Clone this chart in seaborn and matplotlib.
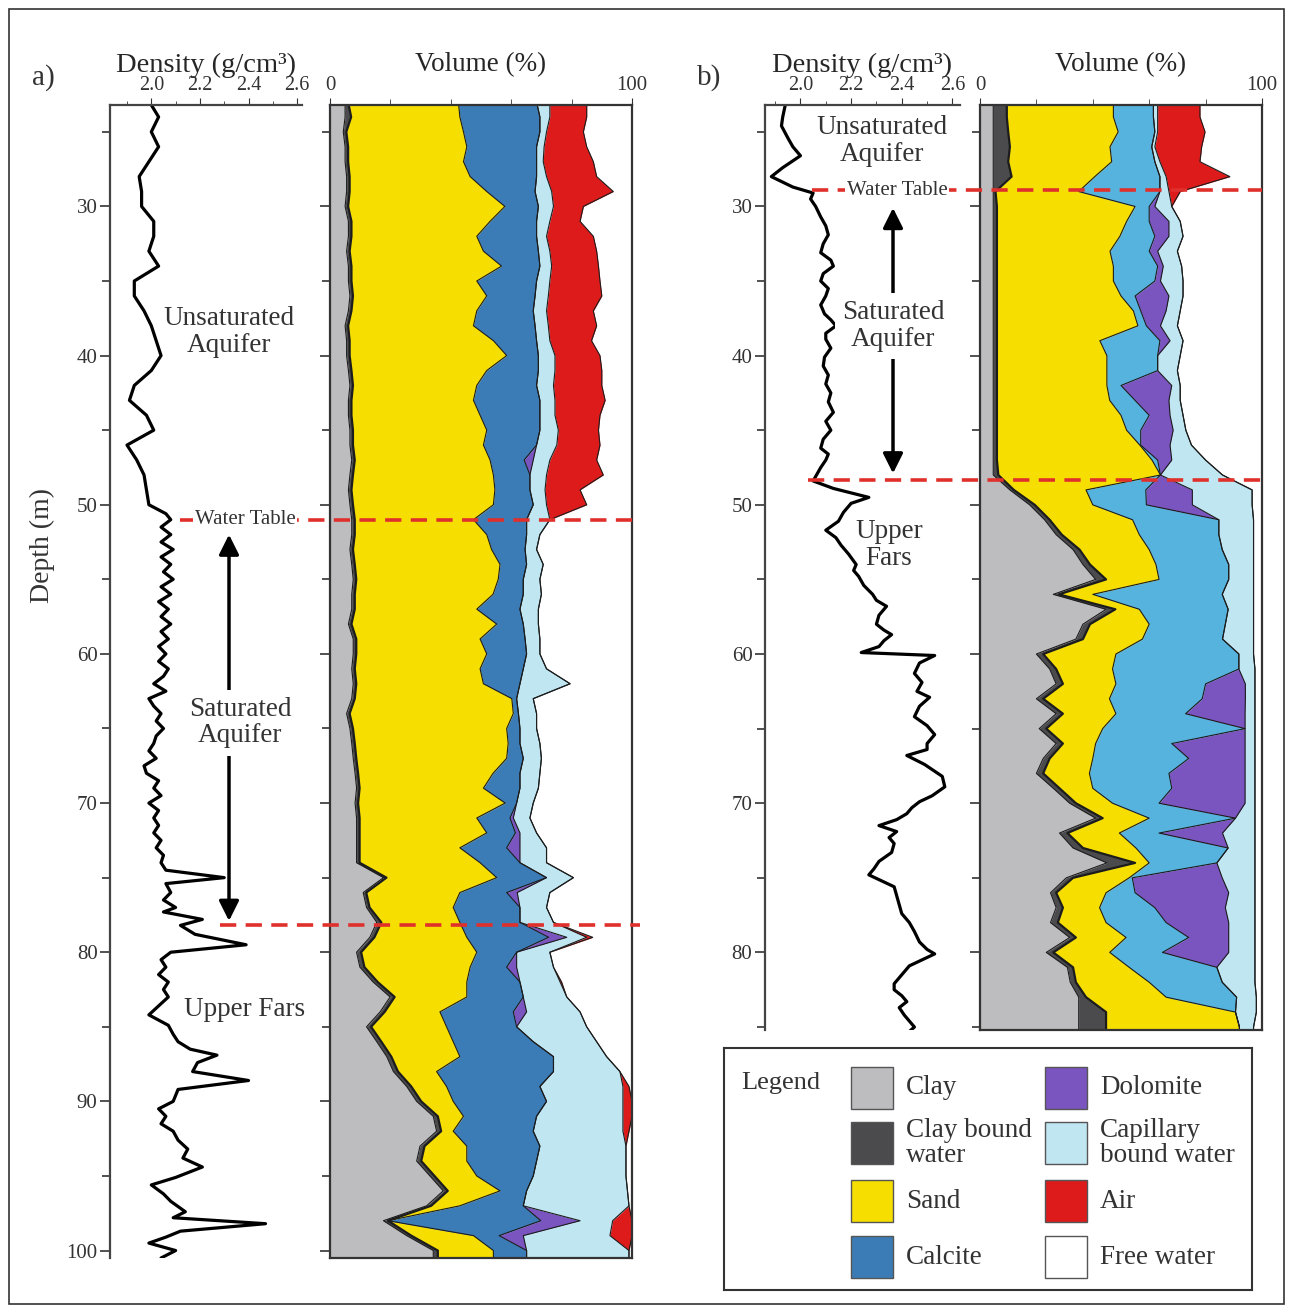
import numpy as np
import matplotlib
matplotlib.use("Agg")
import matplotlib.pyplot as plt
from matplotlib.patches import Rectangle
from matplotlib.ticker import MultipleLocator, FixedLocator
import seaborn as sns

# ---------------- density logs (g/cm3) ----------------
dens_a_depth = [23.2, 24, 25, 26, 27, 28, 29, 30, 31, 32, 33, 34, 35, 36, 37, 38, 39, 40, 41, 42, 43, 44, 45,
                46, 47, 48, 49, 50, 50.6, 51, 51.5, 52, 52.5, 53, 53.5, 54, 54.5, 55, 55.5, 56, 56.5, 57, 57.5,
                58, 58.5, 59, 59.5, 60, 60.5, 61, 61.5, 62, 62.5, 63, 63.5, 64, 64.5, 65, 65.5, 66, 66.5, 67,
                67.5, 68, 68.5, 69, 69.5, 70, 70.5, 71, 71.5, 72, 72.5, 73, 73.5, 74, 74.5, 75, 75.4, 76, 76.5,
                77, 77.3, 77.8, 78.2, 78.8, 79.5, 80, 80.5, 81, 81.5, 82, 82.5, 83, 83.6, 84.2, 84.9, 85.5, 86,
                86.5, 86.9, 87.4, 88, 88.6, 89.2, 90, 90.5, 91, 91.5, 92, 92.6, 93.2, 93.8, 94.4, 95.1, 95.6,
                96.2, 96.7, 97.4, 97.8, 98.2, 98.7, 99.1, 99.5, 100, 100.5, 100.9]
dens_a = [2.00, 2.03, 2.00, 2.03, 1.99, 1.95, 1.96, 1.96, 2.01, 2.01, 1.99, 2.03, 1.93, 1.93, 1.97, 2.00, 2.02,
          2.04, 2.00, 1.93, 1.91, 1.98, 2.01, 1.90, 1.94, 1.97, 1.98, 1.99, 2.06, 2.08, 2.04, 2.08, 2.04, 2.09,
          2.04, 2.08, 2.05, 2.09, 2.04, 2.08, 2.03, 2.07, 2.04, 2.08, 2.04, 2.07, 2.03, 2.06, 2.03, 2.07, 2.05,
          2.01, 2.06, 1.99, 2.01, 2.04, 2.02, 2.05, 2.02, 2.01, 1.99, 2.02, 1.97, 1.98, 2.03, 2.01, 2.04, 1.99,
          2.03, 2.01, 2.03, 2.01, 2.04, 2.02, 2.05, 2.04, 2.06, 2.30, 2.06, 2.08, 2.05, 2.10, 2.05, 2.21, 2.12,
          2.18, 2.39, 2.08, 2.04, 2.06, 2.03, 2.07, 2.05, 2.07, 2.03, 1.99, 2.07, 2.09, 2.11, 2.16, 2.27, 2.19,
          2.17, 2.40, 2.11, 2.09, 2.03, 2.06, 2.04, 2.09, 2.11, 2.15, 2.13, 2.21, 2.10, 2.00, 2.05, 2.08, 2.14,
          2.09, 2.47, 2.12, 2.06, 1.99, 2.10, 2.04, 2.06]

dens_b_depth = [23.2, 24, 24.6, 25.4, 26, 26.6, 27.4, 28, 28.7, 29.1, 29.5, 30, 30.7, 31.3, 31.9, 32.5, 33.1,
                33.6, 34, 34.5, 35, 35.5, 36, 36.6, 37.2, 37.6, 38, 38.5, 38.9, 39.5, 40.1, 40.7, 41.3, 41.9,
                42.5, 43.1, 43.8, 44.4, 45, 45.6, 46.2, 46.6, 47, 47.5, 47.8, 48.4, 48.9, 49.5, 49.9, 50.5,
                51.1, 51.7, 52.2, 52.7, 53.3, 54, 54.4, 54.8, 55.4, 56, 56.4, 56.8, 57.4, 58, 58.4, 58.7, 59.1,
                59.5, 59.9, 60.1, 60.6, 61.3, 61.9, 62.5, 62.9, 63.5, 64.2, 64.8, 65.4, 66, 66.4, 66.8, 67.4,
                68.2, 68.9, 69.5, 69.9, 70.3, 70.7, 71.1, 71.5, 71.9, 72.3, 72.7, 73.3, 73.9, 74.4, 74.8, 75.2,
                75.6, 76.2, 76.8, 77.4, 78, 78.6, 79.3, 79.8, 80.1, 80.5, 80.9, 81.3, 81.7, 82.1, 82.5, 82.9,
                83.3, 83.7, 84.2, 84.6, 85, 85.3]
dens_b = [1.94, 1.93, 1.925, 1.95, 1.97, 2.00, 1.93, 1.885, 1.97, 2.05, 2.04, 2.06, 2.08, 2.10, 2.11, 2.09,
          2.08, 2.12, 2.13, 2.09, 2.08, 2.11, 2.10, 2.08, 2.095, 2.12, 2.14, 2.10, 2.10, 2.12, 2.095, 2.09,
          2.11, 2.10, 2.12, 2.11, 2.13, 2.10, 2.12, 2.09, 2.08, 2.11, 2.10, 2.08, 2.07, 2.05, 2.13, 2.27, 2.20,
          2.17, 2.15, 2.10, 2.14, 2.16, 2.19, 2.22, 2.21, 2.23, 2.25, 2.285, 2.30, 2.34, 2.31, 2.30, 2.33, 2.36,
          2.33, 2.31, 2.24, 2.53, 2.47, 2.45, 2.48, 2.46, 2.51, 2.47, 2.45, 2.50, 2.53, 2.50, 2.50, 2.42, 2.49,
          2.56, 2.57, 2.52, 2.47, 2.44, 2.42, 2.38, 2.31, 2.38, 2.35, 2.37, 2.36, 2.31, 2.29, 2.27, 2.32, 2.37,
          2.38, 2.39, 2.40, 2.43, 2.45, 2.47, 2.50, 2.53, 2.48, 2.43, 2.41, 2.39, 2.37, 2.37, 2.40, 2.42, 2.39,
          2.41, 2.43, 2.45, 2.43]

# ---------------- volume (%) well a, 1 m steps from 23 m ----------------
depth_a = np.arange(23, 102)
clay_a = [5.0, 5.0, 4.4, 5.0, 5.0, 5.5, 5.5, 5.0, 6.1, 6.1, 5.5, 6.1, 6.1, 6.6, 6.1, 5.0, 5.5, 5.5, 6.1, 6.6,
          6.1, 6.1, 6.6, 6.6, 7.2, 6.6, 6.1, 6.6, 7.2, 7.2, 6.6, 7.2, 7.7, 7.2, 7.2, 6.1, 7.7, 7.7, 7.2, 7.7,
          7.2, 5.5, 6.6, 7.2, 7.7, 8.3, 8.8, 8.3, 8.8, 8.8, 8.8, 8.8, 17.7, 11.0, 12.1, 15.5, 13.2, 8.8, 9.9,
          14.3, 19.9, 16.6, 12.1, 15.5, 18.8, 21.0, 25.4, 28.7, 34.2, 35.3, 29.8, 28.7, 33.1, 37.5, 32.0, 17.7,
          25.4, 34.2, 34.2]
cbw_a = [1, 2, 1, 1, 1, 1, 1, 1, 1, 1, 1, 1, 1, 1, 1, 1, 1, 1, 1, 1, 1, 1, 1, 1, 1, 1, 1, 1, 1, 1, 1, 1, 1, 1,
         1, 1, 1, 1, 1, 1, 1, 1, 1, 1, 1, 1, 1, 1, 1, 1, 1, 1, 1, 1, 1, 1.5, 1.5, 1.5, 1.5, 1.5, 1.5, 1.5, 1.5,
         1.5, 1.5, 1.5, 1.5, 1.5, 1.5, 1.5, 1.5, 1.5, 1.5, 1.5, 1.5, 1.5, 1.5, 1.5, 1.5]
sand_a = [36.5, 36.0, 38.8, 39.3, 38.2, 39.9, 45.4, 51.9, 45.9, 41.5, 44.3, 49.7, 41.5, 44.3, 41.5, 41.5, 47.6,
          52.0, 44.8, 41.0, 40.4, 42.6, 44.3, 43.2, 44.8, 46.5, 47.5, 46.5, 39.3, 43.7, 45.9, 48.1, 47.0, 45.8,
          40.4, 48.1, 41.0, 43.2, 41.5, 42.1, 52.0, 54.2, 50.9, 50.8, 49.8, 44.7, 41.0, 48.7, 38.8, 42.1, 33.2,
          39.9, 36.5, 31.0, 27.7, 26.0, 30.6, 38.3, 35.0, 29.5, 23.9, 18.3, 25.0, 23.8, 22.7, 12.8, 11.7, 10.6,
          8.5, 4.0, 14.0, 15.1, 14.0, 17.3, 9.5, 0.0, 20.6, 18.4, 18.4]
calcite_a = [25.9, 26.5, 25.3, 23.1, 24.2, 22.0, 16.0, 11.1, 15.4, 19.8, 18.2, 12.7, 19.8, 16.0, 18.7, 20.4,
             14.3, 10.5, 17.1, 19.8, 22.0, 19.8, 17.6, 17.6, 11.3, 12.1, 11.6, 13.2, 17.6, 13.2, 11.1, 8.8, 8.3,
             10.0, 14.3, 8.8, 14.9, 13.2, 14.3, 12.1, 1.6, 1.7, 4.4, 3.9, 5.5, 8.9, 12.1, 3.8, 11.0, 9.5, 15.5,
             13.2, 16.5, 15.5, 22.1, 19.9, 27.1, 13.2, 12.1, 17.6, 18.7, 24.3, 23.2, 26.5, 31.0, 38.7, 30.9, 30.9,
             24.2, 26.5, 24.2, 23.1, 18.7, 8.8, 21.0, 50.6, 8.5, 11.0, 11.0]
dolomite_a = [0, 0, 0, 0, 0, 0, 0, 0, 0, 0, 0, 0, 0, 0, 0, 0, 0, 0, 0, 0, 0, 0, 0, 0, 3.0, 0, 0, 0, 0, 0, 0, 0,
              0, 0, 0, 0, 0, 0, 0, 0, 0, 0, 0, 0, 0, 0, 0, 0, 1.1, 1.5, 4.4, 0, 0, 3.5, 0, 0, 6.0, 0, 3.3, 0, 0,
              4.4, 0, 0, 0, 0, 0, 0, 0, 0, 0, 0, 0, 0, 0, 13.0, 8.0, 0, 0]
capillary_a = [4.4, 3.3, 2.2, 2.5, 2.2, 3.3, 5.5, 5.0, 4.4, 3.3, 3.8, 3.9, 4.4, 4.4, 4.4, 4.4, 4.4, 5.5, 5.5,
               5.6, 5.0, 5.0, 6.1, 6.7, 5.5, 5.5, 5.0, 4.4, 7.7, 4.4, 3.8, 5.5, 5.5, 6.0, 6.1, 5.0, 4.9, 4.4,
               7.7, 16.6, 5.5, 6.0, 5.5, 6.6, 6.0, 6.6, 6.1, 5.5, 5.5, 5.5, 8.8, 8.8, 8.9, 10.8, 8.8, 11.1, 6.6,
               11.0, 12.2, 13.3, 14.4, 17.7, 23.2, 21.0, 17.6, 22.0, 27.5, 25.3, 28.6, 29.7, 28.5, 29.6, 30.7,
               33.4, 35.0, 10.8, 28.7, 33.9, 33.9]
air_a = [12.2, 12.2, 12.2, 14.1, 16.6, 16.6, 20.4, 9.9, 10.0, 15.5, 15.5, 15.5, 16.6, 17.7, 15.5, 16.0, 13.8,
         14.9, 15.5, 16.0, 16.6, 14.9, 13.3, 14.3, 15.5, 18.8, 11.6, 13.3, 0, 0, 0, 0, 0, 0, 0, 0, 0, 0, 0, 0,
         0, 0, 0, 0, 0, 0, 0, 0, 0, 0, 0, 0, 0, 0, 0, 0, 2.0, 0, 0, 0.5, 0, 0, 0, 0, 0, 0, 2.0, 3.0, 3.0, 2.0,
         0, 0, 0, 0, 0, 6.4, 7.3, 0, 0]

# ---------------- volume (%) well b, 1 m steps from 23 m ----------------
depth_b = np.arange(23, 87)
clay_b = [4.7, 4.7, 4.7, 4.7, 4.7, 4.7, 4.7, 4.7, 4.7, 4.7, 4.7, 4.7, 4.7, 4.7, 4.7, 4.7, 4.7, 4.7, 4.7, 4.7,
          4.7, 4.7, 4.7, 4.7, 4.7, 4.7, 10.6, 17.6, 22.9, 27.0, 33.0, 36.5, 41.0, 26.0, 44.7, 36.5, 34.0, 20.0,
          24.7, 27.0, 20.0, 27.0, 21.0, 27.0, 22.4, 20.0, 26.0, 31.8, 41.0, 28.2, 33.0, 45.0, 30.6, 25.0, 27.0,
          25.0, 31.8, 23.5, 31.0, 32.0, 35.0, 35.0, 35.0, 35.0]
cbw_b = [4.8, 4.8, 5.3, 5.9, 5.3, 6.5, 0.8, 1.3, 1.3, 1.3, 1.3, 1.3, 1.3, 1.3, 1.3, 1.3, 1.3, 1.3, 1.3, 1.3,
         1.3, 1.3, 1.3, 1.3, 1.3, 1.8, 1.4, 1.8, 1.8, 2.0, 2.3, 2.5, 3.7, 2.0, 3.3, 2.5, 2.5, 2.4, 2.3, 2.4, 2.4,
         2.4, 2.5, 2.4, 2.3, 2.4, 2.2, 2.2, 2.5, 2.8, 3.5, 10.0, 2.4, 2.0, 2.4, 2.6, 2.2, 2.5, 2.0, 2.0, 2.6, 9.7,
         9.7, 9.7]
sand_b = [37.8, 37.8, 39.0, 35.5, 36.7, 29.5, 29.5, 49.0, 46.0, 43.6, 40.1, 41.3, 41.3, 44.0, 48.4, 50.0, 36.5,
          39.0, 39.0, 39.0, 40.0, 44.0, 46.0, 50.7, 55.0, 57.5, 25.6, 20.6, 29.4, 27.5, 24.7, 23.4, 18.8, 12.0,
          8.5, 21.0, 21.1, 25.8, 20.0, 18.8, 23.5, 18.8, 20.0, 11.6, 15.3, 16.4, 11.8, 13.0, 16.5, 18.4, 18.8,
          5.0, 19.9, 17.7, 13.0, 17.1, 17.8, 20.0, 19.9, 26.0, 28.4, 45.9, 47.3, 47.3]
calcite_b = [14.2, 14.2, 13.0, 14.8, 15.3, 23.1, 28.8, 5.0, 8.0, 12.4, 13.9, 15.7, 14.7, 5.0, 2.6, 3.0, 21.3,
             18.0, 18.0, 5.0, 9.0, 10.0, 5.0, 0.3, 2.0, 0.0, 21.2, 19.0, 30.6, 28.2, 25.9, 25.8, 24.7, 45.9, 31.5,
             27.0, 28.4, 43.6, 44.8, 31.8, 32.9, 24.7, 50.5, 27.0, 34.0, 28.2, 28.0, 16.5, 30.6, 14.1, 32.7, 24.0,
             1.1, 10.3, 19.6, 21.3, 22.2, 18.7, 31.1, 25.9, 25.0, 0, 0, 0]
dolomite_b = [0, 0, 0, 0, 0, 0, 0, 2.0, 7.0, 5.0, 3.0, 2.0, 2.0, 12.0, 9.0, 5.0, 3.6, 0, 0, 18.0, 12.0, 7.4,
              11.5, 10.4, 5.0, 0, 16.5, 16.3, 0, 0, 0, 0, 0, 0, 0, 0, 0, 0, 0, 14.1, 15.3, 21.1, 0, 26.0, 20.0,
              27.0, 26.0, 30.5, 0, 22.5, 0, 0, 31.9, 33.2, 25.0, 22.2, 14.2, 23.5, 0, 0, 0, 0, 0, 0]
capillary_b = [1.5, 1.5, 1.0, 1.1, 1.8, 2.2, 3.2, 6.0, 4.0, 5.0, 7.0, 6.5, 8.0, 5.0, 5.0, 6.0, 4.6, 8.0, 7.0,
               3.0, 4.0, 4.6, 4.5, 7.6, 12.0, 22.0, 21.2, 21.2, 12.3, 12.3, 11.1, 8.8, 8.8, 11.1, 9.0, 10.0,
               11.0, 5.2, 5.7, 3.4, 3.4, 3.5, 3.5, 3.5, 3.5, 3.5, 3.5, 3.5, 6.9, 11.5, 9.5, 13.5, 11.6, 9.3,
               10.5, 9.3, 9.3, 9.3, 13.5, 11.6, 7.0, 7.4, 5.0, 5.0]
air_b = [15.0, 15.0, 16.8, 16.6, 14.2, 22.6, 4.0, 0, 0, 0, 0, 0, 0, 0, 0, 0, 0, 0, 0, 0, 0, 0, 0, 0, 0, 0, 0,
         0, 0, 0, 0, 0, 0, 0, 0, 0, 0, 0, 0, 0, 0, 0, 0, 0, 0, 0, 0, 0, 0, 0, 0, 0, 0, 0, 0, 0, 0, 0, 0, 0, 0, 0,
         0, 0]

legend_names = ["Clay", "Clay bound\nwater", "Sand", "Calcite",
                "Dolomite", "Capillary\nbound water", "Air", "Free water"]
colors = {"Clay": "#bdbdc0", "Clay bound\nwater": "#4b4b4e", "Sand": "#f6df00", "Calcite": "#3b7cb7",
          "Dolomite": "#7a55c0", "Capillary\nbound water": "#bfe6f1", "Air": "#de1b1b", "Free water": "white"}
calcite_b_color = "#56b3de"

sns.set_style("ticks")
plt.rcParams['font.family'] = ['Liberation Serif', 'DejaVu Serif']
plt.rcParams['text.color'] = '#333333'
plt.rcParams['xtick.color'] = '#333333'
plt.rcParams['ytick.color'] = '#333333'

W, H = 1292, 1313
fig = plt.figure(figsize=(W / 100, H / 100), dpi=100)


def px_axes(x0, y0, x1, y1):
    return fig.add_axes([x0 / W, 1 - y1 / H, (x1 - x0) / W, (y1 - y0) / H])


def depth_ticks(ax, labels=True):
    ax.yaxis.set_major_locator(MultipleLocator(10))
    ax.yaxis.set_minor_locator(MultipleLocator(5))
    ax.tick_params(axis='y', which='major', length=7, width=1.2, labelsize=15, labelleft=labels, pad=2)
    ax.tick_params(axis='y', which='minor', length=6, width=1.2)


def density_track(ax, dens, depth, xlim, ylim):
    sns.lineplot(x=dens, y=depth, sort=False, estimator=None, orient='y', color='black', lw=2.3, ax=ax)
    ax.set_xlim(xlim)
    ax.set_ylim(ylim)
    ax.xaxis.tick_top()
    ax.xaxis.set_label_position('top')
    ax.xaxis.set_major_locator(FixedLocator([2.0, 2.2, 2.4, 2.6]))
    ax.xaxis.set_minor_locator(MultipleLocator(0.1))
    ax.tick_params(axis='x', which='major', length=5, labelsize=14.5, pad=2)
    ax.tick_params(axis='x', which='minor', length=3)
    ax.set_xlabel('Density (g/cm³)', fontsize=20.5, labelpad=3)
    ax.set_ylabel('')
    for s in ['right', 'bottom']:
        ax.spines[s].set_visible(False)
    for s in ['left', 'top']:
        ax.spines[s].set_color('#444444')
        ax.spines[s].set_linewidth(1.6)
    ax.patch.set_visible(False)
    depth_ticks(ax)


def volume_track(ax, depth, layers, layer_colors, ylim):
    left = np.zeros(len(depth))
    for vals, col in zip(layers, layer_colors):
        right = left + np.asarray(vals, dtype=float)
        ax.fill_betweenx(depth, left, right, color=col, lw=0)
        left = right
    left = np.zeros(len(depth))
    for i, vals in enumerate(layers):
        left = left + np.asarray(vals, dtype=float)
        lw = 1.6 if i == 1 else 0.8
        ax.plot(left, depth, color='#1c1c1c', lw=lw)
    ax.set_xlim(0, 100)
    ax.set_ylim(ylim)
    ax.xaxis.tick_top()
    ax.xaxis.set_label_position('top')
    ax.xaxis.set_major_locator(FixedLocator([0, 100]))
    ax.xaxis.set_minor_locator(FixedLocator([20, 40, 60, 80]))
    ax.tick_params(axis='x', which='major', length=5, labelsize=15, pad=2)
    ax.tick_params(axis='x', which='minor', length=4)
    ax.set_xlabel('Volume (%)', fontsize=19.5, labelpad=4)
    for s in ax.spines.values():
        s.set_color('#333333')
        s.set_linewidth(1.6)
    depth_ticks(ax, labels=False)


# well a
ax_da = px_axes(110, 105, 302, 1258)
density_track(ax_da, dens_a, dens_a_depth, (1.83, 2.62), (100.5, 23.2))
ax_va = px_axes(330, 105, 632, 1258)
layers_a = [clay_a, cbw_a, sand_a, calcite_a, dolomite_a, capillary_a, air_a]
volume_track(ax_va, depth_a, layers_a, [colors[n] for n in legend_names[:3]] +
             [colors["Calcite"], colors["Dolomite"], colors["Capillary\nbound water"], colors["Air"]],
             (100.5, 23.2))

# well b
ax_db = px_axes(765, 105, 960, 1030)
density_track(ax_db, dens_b, dens_b_depth, (1.86, 2.63), (85.2, 23.2))
ax_vb = px_axes(980, 105, 1262, 1030)
layers_b = [clay_b, cbw_b, sand_b, calcite_b, dolomite_b, capillary_b, air_b]
volume_track(ax_vb, depth_b, layers_b, [colors[n] for n in legend_names[:3]] +
             [calcite_b_color, colors["Dolomite"], colors["Capillary\nbound water"], colors["Air"]],
             (85.2, 23.2))

# overlay: x in pixels, y in depth (same scale for both wells)
ov = fig.add_axes([0, 1 - 1258 / H, 1, 1153 / H])
ov.set_xlim(0, W)
ov.set_ylim(100.5, 23.2)
ov.axis('off')
ov.patch.set_visible(False)

red = '#e0302b'
dash = (0, (4.5, 2.6))
ov.plot([180, 640], [51.0, 51.0], color=red, lw=2.6, ls=dash)
ov.plot([220, 640], [78.2, 78.2], color=red, lw=2.6, ls=dash)
ov.plot([812, 1262], [28.9, 28.9], color=red, lw=2.6, ls=dash)
ov.plot([808, 1262], [48.35, 48.35], color=red, lw=2.6, ls=dash)

big = 19.5
white_box = dict(facecolor='white', edgecolor='none', pad=1.5)
ov.text(229, 38.4, "Unsaturated\nAquifer", ha='center', va='center', fontsize=big, linespacing=1.1)
ov.text(245, 51.0, "Water Table", ha='center', va='center', fontsize=15, bbox=white_box, zorder=6)
ov.annotate('', xy=(229, 52.0), xytext=(229, 77.9),
            arrowprops=dict(arrowstyle='<|-|>', color='black', lw=2.5, mutation_scale=30, shrinkA=0, shrinkB=0))
ov.text(240, 64.6, "Saturated\nAquifer", ha='center', va='center', fontsize=big, linespacing=1.1,
        bbox=dict(facecolor='white', edgecolor='none', pad=5), zorder=6)
ov.text(245, 83.85, "Upper Fars", ha='center', va='center', fontsize=big)

ov.text(882, 25.6, "Unsaturated\nAquifer", ha='center', va='center', fontsize=big, linespacing=1.1)
ov.text(897, 28.9, "Water Table", ha='center', va='center', fontsize=15, bbox=white_box, zorder=6)
ov.annotate('', xy=(893, 30.1), xytext=(893, 47.9),
            arrowprops=dict(arrowstyle='<|-|>', color='black', lw=2.5, mutation_scale=30, shrinkA=0, shrinkB=0))
ov.text(893, 38.0, "Saturated\nAquifer", ha='center', va='center', fontsize=big, linespacing=1.1,
        bbox=dict(facecolor='white', edgecolor='none', pad=5), zorder=6)
ov.text(889, 52.7, "Upper\nFars", ha='center', va='center', fontsize=big, linespacing=1.1)

fig.text(32 / W, 1 - 78 / H, 'a)', fontsize=21, ha='left', va='center')
fig.text(697 / W, 1 - 78 / H, 'b)', fontsize=21, ha='left', va='center')
fig.text(42 / W, 1 - 546 / H, 'Depth (m)', rotation=90, fontsize=20, ha='center', va='center')

# legend box
axl = px_axes(724, 1048, 1252, 1290)
axl.set_xlim(724, 1252)
axl.set_ylim(1290, 1048)
axl.set_xticks([])
axl.set_yticks([])
for s in axl.spines.values():
    s.set_color('#333333')
    s.set_linewidth(1.5)
axl.text(741, 1083, 'Legend', fontsize=19, ha='left', va='center')
row_y = [1088, 1143, 1201, 1257]
for j, name in enumerate(legend_names):
    col, row = divmod(j, 4)
    px = 851 if col == 0 else 1045
    axl.add_patch(Rectangle((px, row_y[row] - 21), 42, 42, facecolor=colors[name],
                            edgecolor='#555555', lw=1))
    axl.text(px + 55, row_y[row], name, fontsize=19.5, ha='left', va='center', linespacing=1.05)

fig.add_artist(Rectangle((9 / W, 9 / H), 1275 / W, 1295 / H, transform=fig.transFigure,
                         fill=False, lw=1.2, ec='#333333'))

fig.savefig('out.png', dpi=100)
